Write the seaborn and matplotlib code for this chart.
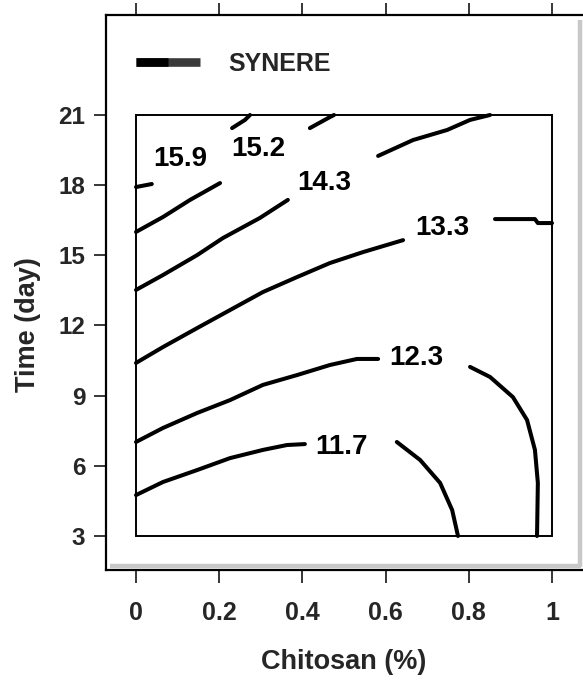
import numpy as np
import pandas as pd
import matplotlib
matplotlib.use("Agg")
import matplotlib.pyplot as plt
from matplotlib.patches import Rectangle
import seaborn as sns

# ---------------- data ----------------
x_ticks = [0, 0.2, 0.4, 0.6, 0.8, 1]
x_tick_labels = ["0", "0.2", "0.4", "0.6", "0.8", "1"]
y_ticks = [3, 6, 9, 12, 15, 18, 21]
y_tick_labels = ["3", "6", "9", "12", "15", "18", "21"]

levels = ["11.7", "12.3", "13.3", "14.3", "15.2", "15.9"]

# contour line segments (Chitosan %, Time day); each level is broken where its label sits
c117_a_x = [0.0, 0.065, 0.147, 0.226, 0.305, 0.363, 0.406]
c117_a_y = [4.75, 5.31, 5.82, 6.33, 6.68, 6.89, 6.93]
c117_b_x = [0.627, 0.683, 0.731, 0.760, 0.774]
c117_b_y = [7.02, 6.25, 5.27, 4.11, 3.0]

c123_a_x = [0.0, 0.065, 0.147, 0.226, 0.305, 0.387, 0.466, 0.531, 0.582]
c123_a_y = [7.02, 7.62, 8.26, 8.81, 9.46, 9.88, 10.31, 10.57, 10.57]
c123_b_x = [0.803, 0.851, 0.906, 0.940, 0.959, 0.966, 0.964]
c123_b_y = [10.23, 9.80, 8.94, 7.96, 6.68, 5.27, 3.0]

c133_a_x = [0.0, 0.065, 0.147, 0.226, 0.305, 0.387, 0.466, 0.546, 0.642]
c133_a_y = [10.40, 11.08, 11.89, 12.66, 13.43, 14.07, 14.67, 15.14, 15.65]
c133_b_x = [0.863, 0.959, 0.966, 1.0]
c133_b_y = [16.55, 16.55, 16.38, 16.38]

c143_a_x = [0.0, 0.065, 0.147, 0.209, 0.298, 0.365]
c143_a_y = [13.52, 14.16, 15.01, 15.74, 16.60, 17.37]
c143_b_x = [0.582, 0.666, 0.748, 0.803, 0.851]
c143_b_y = [19.25, 19.93, 20.36, 20.79, 21.0]

c152_a_x = [0.0, 0.065, 0.130, 0.202]
c152_a_y = [16.00, 16.64, 17.37, 18.09]
c152_b_x = [0.418, 0.466, 0.476]
c152_b_y = [20.44, 20.91, 21.0]

c159_a_x = [0.0, 0.038]
c159_a_y = [17.92, 18.05]
c159_b_x = [0.231, 0.262, 0.274]
c159_b_y = [20.44, 20.79, 21.0]

# label anchor positions
label_x = [0.495, 0.673, 0.736, 0.452, 0.293, 0.106]
label_y = [6.80, 10.61, 16.17, 18.09, 19.55, 19.12]

legend_label = "SYNERE"

# ---------------- build table ----------------
segments = [
    ("11.7", "a", c117_a_x, c117_a_y), ("11.7", "b", c117_b_x, c117_b_y),
    ("12.3", "a", c123_a_x, c123_a_y), ("12.3", "b", c123_b_x, c123_b_y),
    ("13.3", "a", c133_a_x, c133_a_y), ("13.3", "b", c133_b_x, c133_b_y),
    ("14.3", "a", c143_a_x, c143_a_y), ("14.3", "b", c143_b_x, c143_b_y),
    ("15.2", "a", c152_a_x, c152_a_y), ("15.2", "b", c152_b_x, c152_b_y),
    ("15.9", "a", c159_a_x, c159_a_y), ("15.9", "b", c159_b_x, c159_b_y),
]
rows = []
for lev, part, xs, ys in segments:
    for i, (xv, yv) in enumerate(zip(xs, ys)):
        rows.append({"Chitosan": xv, "Time": yv, "seg": f"{lev}-{part}", "order": i})
df = pd.DataFrame(rows)

# ---------------- style ----------------
sns.set_style("white")
plt.rcParams["font.family"] = ["Liberation Sans", "DejaVu Sans"]
plt.rcParams["font.weight"] = "bold"

W, H = 583, 680
fig = plt.figure(figsize=(W / 100, H / 100), dpi=100)

# outer frame in pixels
left_px, right_px, top_px, bottom_px = 106, 590, 15, 570
ax = fig.add_axes([left_px / W, (H - bottom_px) / H,
                   (right_px - left_px) / W, (bottom_px - top_px) / H])

# data <-> pixel calibration
x0_px, x1_px = 136, 552
y3_px, y21_px = 536, 115
ppx = (x1_px - x0_px)
ppy = (y3_px - y21_px) / 18.0
ax.set_xlim((left_px - x0_px) / ppx, (right_px - x0_px) / ppx)
ax.set_ylim(3 - (bottom_px - y3_px) / ppy, 3 + (y3_px - top_px) / ppy)

sns.lineplot(data=df, x="Chitosan", y="Time", units="seg", estimator=None,
             sort=False, color="black", linewidth=2.9, ax=ax, legend=False)

for lx, ly, lab in zip(label_x, label_y, levels):
    ax.text(lx, ly, lab, ha="center", va="center", fontsize=20,
            fontweight="bold", color="black")

# inner plotting box
ax.add_patch(Rectangle((0, 3), 1, 18, fill=False, edgecolor="black",
                       linewidth=1.4, zorder=3))

# shadow of the frame
ax.plot([(110 - x0_px) / ppx, (581 - x0_px) / ppx],
        [3 - (565.5 - y3_px) / ppy] * 2, color="#c8c8c8", lw=3.2,
        solid_capstyle="butt", zorder=1)
ax.plot([(579.5 - x0_px) / ppx] * 2,
        [3 + (y3_px - 20) / ppy, 3 - (567 - y3_px) / ppy],
        color="#c8c8c8", lw=3.2, solid_capstyle="butt", zorder=1)

# legend line (black left half, dark grey right half) + text
leg_y = 3 + (y3_px - 62) / ppy
ax.plot([0.0, (200 - x0_px) / ppx], [leg_y] * 2,
        color="#3a3a3a", lw=6.2, solid_capstyle="butt")
ax.plot([0.0, (168 - x0_px) / ppx], [leg_y] * 2,
        color="#000000", lw=6.2, solid_capstyle="butt")
ax.text((228 - x0_px) / ppx, 3 + (y3_px - 64) / ppy, legend_label,
        ha="left", va="center", fontsize=18, fontweight="bold")

# spines
for side in ["left", "top", "bottom"]:
    ax.spines[side].set_visible(True)
    ax.spines[side].set_linewidth(1.6)
    ax.spines[side].set_color("black")
ax.spines["right"].set_visible(False)

ax.set_xticks(x_ticks)
ax.set_xticklabels(x_tick_labels, fontsize=18, fontweight="bold")
ax.set_yticks(y_ticks)
ax.set_yticklabels(y_tick_labels, fontsize=17.5, fontweight="bold")
ax.tick_params(axis="x", which="both", direction="out", length=9, width=1.3,
               top=True, bottom=True, labeltop=False, labelbottom=True, pad=13)
ax.tick_params(axis="y", which="both", direction="out", length=9, width=1.3,
               left=True, right=False, pad=6)

ax.set_xlabel("Chitosan (%)", fontsize=19.5, fontweight="bold")
ax.set_ylabel("Time (day)", fontsize=19.5, fontweight="bold")
ax.xaxis.set_label_coords((344 - left_px) / (right_px - left_px),
                          -(662 - bottom_px) / (bottom_px - top_px))
ax.xaxis.label.set_verticalalignment("center")
ax.yaxis.set_label_coords(-(left_px - 28) / (right_px - left_px),
                          (bottom_px - 325) / (bottom_px - top_px))
ax.yaxis.label.set_verticalalignment("center")

fig.savefig("out.png", dpi=100)
